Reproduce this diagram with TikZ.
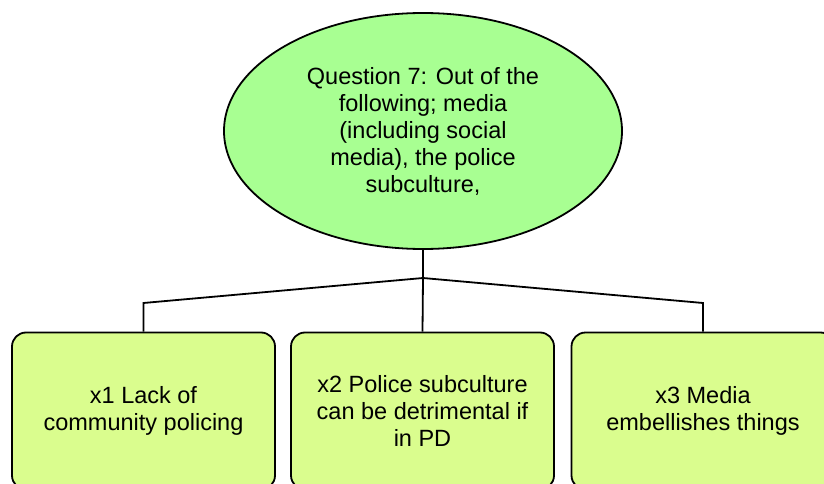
\documentclass[tikz,border=0pt]{standalone}
\usepackage{fontspec}
\setmainfont{Liberation Sans}
\usepackage{tikz}
\usepackage{xcolor}
\usetikzlibrary{shapes.geometric}

\definecolor{qgreen}{RGB}{168,255,146}
\definecolor{agreen}{RGB}{218,253,142}

\begin{document}
\begin{tikzpicture}[x=1pt,y=-1pt,
    question/.style={ellipse, draw, line width=1.8pt, fill=qgreen,
      minimum width=398pt, minimum height=236pt, inner sep=0pt,
      align=center, font=\fontsize{23.5}{27}\selectfont},
    answer/.style={rectangle, rounded corners=14pt, draw, line width=1.8pt,
      fill=agreen, minimum width=263pt, minimum height=157pt, inner sep=0pt,
      align=center, font=\fontsize{23.5}{27}\selectfont},
    link/.style={line width=1.8pt}]
  \useasboundingbox (0,0) rectangle (824,484);
  \clip (0,0) rectangle (824,484);
  \node[question] (q) at (423,131)
    {Question 7: Out of the\\following; media\\(including social\\media), the police\\subculture,};
  \node[answer] (x1) at (143.5,411) {x1 Lack of\\community policing};
  \node[answer] (x2) at (422.5,411) {x2 Police subculture\\can be detrimental if\\in PD};
  \node[answer] (x3) at (703,411) {x3 Media\\embellishes things};
  \coordinate (j) at (423,278);
  \coordinate (j1) at (143.5,303);
  \coordinate (j3) at (703,303);
  \draw[link] (q.south) -- (j);
  \draw[link] (j) -- (j1) -- (x1.north);
  \draw[link] (j) -- (x2.north);
  \draw[link] (j) -- (j3) -- (x3.north);
\end{tikzpicture}
\end{document}
